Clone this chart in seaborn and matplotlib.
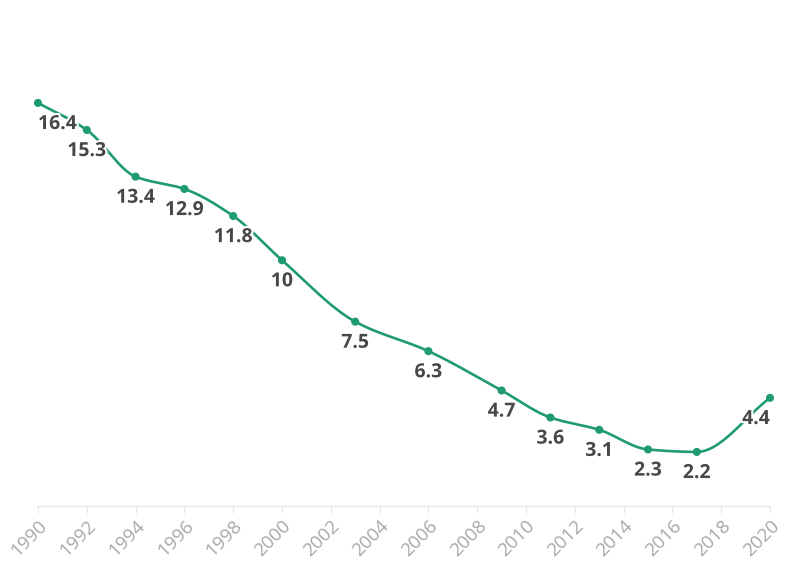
import numpy as np
import pandas as pd
import matplotlib
matplotlib.use("Agg")
import matplotlib.pyplot as plt
import matplotlib.patheffects as pe
import seaborn as sns

years = [1990, 1992, 1994, 1996, 1998, 2000, 2003, 2006, 2009, 2011, 2013, 2015, 2017, 2020]
values = [16.4, 15.3, 13.4, 12.9, 11.8, 10, 7.5, 6.3, 4.7, 3.6, 3.1, 2.3, 2.2, 4.4]
tick_years = list(range(1990, 2021, 2))

LINE = "#1f9b70"
LABEL = "#474747"
TICK = "#a8a8a8"


def monotone_curve(x, y, n=600):
    # Fritsch-Carlson monotone cubic (like d3 curveMonotoneX), rendering only
    x = np.asarray(x, float)
    y = np.asarray(y, float)
    h = np.diff(x)
    d = np.diff(y) / h
    m = np.zeros_like(y)
    m[0] = d[0]
    m[-1] = d[-1]
    for i in range(1, len(y) - 1):
        if d[i - 1] * d[i] <= 0:
            m[i] = 0
        else:
            w1 = 2 * h[i] + h[i - 1]
            w2 = h[i] + 2 * h[i - 1]
            m[i] = (w1 + w2) / (w1 / d[i - 1] + w2 / d[i])
    xs = np.linspace(x[0], x[-1], n)
    idx = np.clip(np.searchsorted(x, xs) - 1, 0, len(x) - 2)
    t = (xs - x[idx]) / h[idx]
    h00 = 2 * t**3 - 3 * t**2 + 1
    h10 = t**3 - 2 * t**2 + t
    h01 = -2 * t**3 + 3 * t**2
    h11 = t**3 - t**2
    ys = h00 * y[idx] + h10 * h[idx] * m[idx] + h01 * y[idx + 1] + h11 * h[idx] * m[idx + 1]
    return xs, ys


sns.set_theme(style="white")
plt.rcParams["font.family"] = ["Open Sans", "DejaVu Sans"]

fig = plt.figure(figsize=(7.96, 5.75), dpi=100)
ax = fig.add_axes([38 / 796, 1 - 506 / 575, (770 - 38) / 796, (506 - 63.6) / 575])

df = pd.DataFrame({"year": years, "value": values})
cx, cy = monotone_curve(years, values)
curve = pd.DataFrame({"year": cx, "value": cy})
sns.lineplot(data=curve, x="year", y="value", ax=ax, color=LINE, linewidth=1.9, zorder=2, clip_on=False)
sns.scatterplot(data=df, x="year", y="value", ax=ax, color=LINE, s=34, edgecolor="none", zorder=3, clip_on=False)

for i, (yr, v) in enumerate(zip(years, values)):
    ha = "center"
    if i == 0:
        ha = "left"
    elif i == len(years) - 1:
        ha = "right"
    txt = ax.annotate(f"{v:g}", (yr, v), xytext=(0, -8), textcoords="offset points",
                      ha=ha, va="top", fontsize=14, fontweight="bold", color=LABEL, zorder=4)
    txt.set_path_effects([pe.withStroke(linewidth=3, foreground="white")])

ax.set_xlim(1990, 2020)
ax.set_ylim(0, 18)
ax.set_xticks(tick_years)
ax.set_xticklabels([str(t) for t in tick_years], rotation=45, ha="right",
                   rotation_mode="anchor", color=TICK, fontsize=13.5)
ax.set_yticks([])
ax.set_xlabel("")
ax.set_ylabel("")
for s in ["top", "right", "left"]:
    ax.spines[s].set_visible(False)
ax.spines["bottom"].set_color("#e6e6e6")
ax.spines["bottom"].set_linewidth(1)
ax.tick_params(axis="x", length=5, width=0.8, color="#e6e6e6", pad=3, bottom=True)
for lbl in ax.get_xticklabels():
    lbl.set_clip_on(False)

fig.savefig("out.png", dpi=100, facecolor="white")
